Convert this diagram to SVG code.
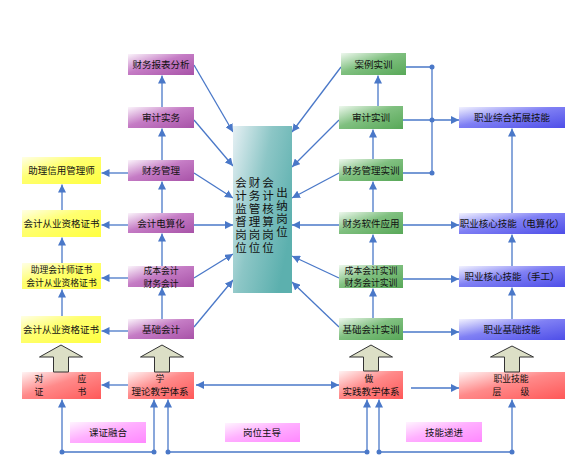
<svg xmlns="http://www.w3.org/2000/svg" width="585" height="460" viewBox="0 0 585 460">
<defs>
<linearGradient id="gP" x1="0" y1="0" x2="1" y2="1"><stop offset="0" stop-color="#fbf4fb"/><stop offset="0.45" stop-color="#c57cc5"/><stop offset="1" stop-color="#a853a8"/></linearGradient>
<linearGradient id="gY" x1="0" y1="0" x2="1" y2="1"><stop offset="0" stop-color="#ffffe6"/><stop offset="0.4" stop-color="#ffff70"/><stop offset="1" stop-color="#ffff40"/></linearGradient>
<linearGradient id="gG" x1="0" y1="0" x2="1" y2="1"><stop offset="0" stop-color="#eef8ee"/><stop offset="0.45" stop-color="#80c080"/><stop offset="1" stop-color="#58a858"/></linearGradient>
<linearGradient id="gB" x1="0" y1="0" x2="1" y2="1"><stop offset="0" stop-color="#f2f2ff"/><stop offset="0.45" stop-color="#8080f4"/><stop offset="1" stop-color="#4e4ee8"/></linearGradient>
<linearGradient id="gR" x1="0" y1="0" x2="1" y2="1"><stop offset="0" stop-color="#fff4f4"/><stop offset="0.45" stop-color="#ff8a8a"/><stop offset="1" stop-color="#ff5858"/></linearGradient>
<linearGradient id="gK" x1="0" y1="0" x2="1" y2="1"><stop offset="0" stop-color="#fff4ff"/><stop offset="0.45" stop-color="#ffb0ff"/><stop offset="1" stop-color="#ff88ff"/></linearGradient>
<linearGradient id="gT" x1="0" y1="0" x2="1" y2="0.6"><stop offset="0" stop-color="#e6f0f4"/><stop offset="0.5" stop-color="#8cc6c6"/><stop offset="1" stop-color="#5cb0ae"/></linearGradient>
<marker id="ah" viewBox="0 0 10 10" refX="10" refY="5" markerWidth="8" markerHeight="8" markerUnits="userSpaceOnUse" orient="auto-start-reverse"><path d="M0,0 L10,5 L0,10 z" fill="#4a78c8"/></marker>
</defs>
<style>
.t{font-family:"Noto Sans CJK SC","Noto Sans",sans-serif;font-size:9.5px;fill:#111;text-anchor:middle}
.t2{font-family:"Noto Sans CJK SC","Noto Sans",sans-serif;font-size:8.8px;fill:#111;text-anchor:middle}
.c{font-family:"Noto Sans CJK SC","Noto Sans",sans-serif;font-size:11.5px;fill:#111;writing-mode:vertical-rl;text-orientation:upright;letter-spacing:1.5px}
.l{fill:none;stroke:#4a78c8;stroke-width:1.3}
.a{marker-end:url(#ah)}
.d{marker-start:url(#ah);marker-end:url(#ah)}
.dot{fill:#4a78c8}
.ba{fill:#dcdfc6;stroke:#333;stroke-width:1}
</style>
<rect width="585" height="460" fill="#fff"/>
<g id="connectors">
<path class="l a" d="M62,316 V289.5"/>
<path class="l a" d="M62,263 V237.5"/>
<path class="l a" d="M62,210 V184.5"/>
<path class="l a" d="M128,173 H101.5"/>
<path class="l a" d="M128,225 H101.5"/>
<path class="l a" d="M128,278 H101.5"/>
<path class="l a" d="M128,331 H101.5"/>
<path class="l a" d="M162,319 V287.5"/>
<path class="l a" d="M162,266 V233.5"/>
<path class="l a" d="M162,213 V181.5"/>
<path class="l a" d="M162,160 V128.5"/>
<path class="l a" d="M162,107 V75.5"/>
<path class="l a" d="M194,65 L233,132"/>
<path class="l a" d="M194,120 L233,166"/>
<path class="l a" d="M194,173 L233,198"/>
<path class="l a" d="M194,225 H233"/>
<path class="l a" d="M194,278 L233,254"/>
<path class="l a" d="M194,327 L233,280"/>
<path class="l a" d="M341,67 L292,132"/>
<path class="l a" d="M339,120 L292,167"/>
<path class="l a" d="M339,173 L292,198"/>
<path class="l a" d="M339,225 H292"/>
<path class="l a" d="M339,278 L292,256"/>
<path class="l a" d="M339,327 L292,282"/>
<path class="l a" d="M373,318 V288.5"/>
<path class="l a" d="M373,265 V234.5"/>
<path class="l a" d="M373,212 V181.5"/>
<path class="l a" d="M373,159 V129.5"/>
<path class="l a" d="M378,106 V75.5"/>
<path class="l" d="M406,67 H432 M403,173 H432 M432,67 V173"/>
<path class="l a" d="M403,120 H459"/>
<circle class="dot" cx="432" cy="67" r="2.5"/>
<circle class="dot" cx="432" cy="120" r="2.5"/>
<circle class="dot" cx="432" cy="173" r="2.5"/>
<path class="l a" d="M403,225 H459"/>
<path class="l a" d="M403,279 H459"/>
<path class="l a" d="M403,332 H459"/>
<path class="l a" d="M512,319 V287.5"/>
<path class="l a" d="M512,266 V234.5"/>
<path class="l a" d="M512,213 V128.5"/>
<path class="l a" d="M128,385 H101.5"/>
<path class="l d" d="M196,385 H339"/>
<path class="l a" d="M411,388 H459"/>
<path class="l a" d="M62,452 V399.5"/>
<path class="l a" d="M154,452 V399.5"/>
<path class="l a" d="M168,452 V399.5"/>
<path class="l a" d="M367,452 V399.5"/>
<path class="l a" d="M379,452 V399.5"/>
<path class="l a" d="M512,452 V399.5"/>
<path class="l" d="M62,452 H154 M168,452 H367 M379,452 H512"/>
<circle class="dot" cx="62" cy="452" r="2.5"/>
<circle class="dot" cx="154" cy="452" r="2.5"/>
<circle class="dot" cx="168" cy="452" r="2.5"/>
<circle class="dot" cx="367" cy="452" r="2.5"/>
<circle class="dot" cx="379" cy="452" r="2.5"/>
<circle class="dot" cx="512" cy="452" r="2.5"/>
</g>
<g id="y1"><rect x="22" y="157" width="79" height="27" fill="url(#gY)"/><text class="t" x="61.5" y="174">助理信用管理师</text></g>
<g id="y2"><rect x="22" y="210" width="79" height="27" fill="url(#gY)"/><text class="t" x="61.5" y="227">会计从业资格证书</text></g>
<g id="y3"><rect x="22" y="263" width="79" height="26" fill="url(#gY)"/><text class="t2" x="61.5" y="273">助理会计师证书</text><text class="t2" x="61.5" y="285.8">会计从业资格证书</text></g>
<g id="y4"><rect x="21" y="316" width="80" height="27" fill="url(#gY)"/><text class="t" x="61" y="333">会计从业资格证书</text></g>
<g id="p1"><rect x="128" y="54" width="66" height="21" fill="url(#gP)"/><text class="t" x="161" y="68">财务报表分析</text></g>
<g id="p2"><rect x="128" y="107" width="66" height="21" fill="url(#gP)"/><text class="t" x="161" y="121">审计实务</text></g>
<g id="p3"><rect x="128" y="160" width="66" height="21" fill="url(#gP)"/><text class="t" x="161" y="174">财务管理</text></g>
<g id="p4"><rect x="128" y="213" width="66" height="20" fill="url(#gP)"/><text class="t" x="161" y="226.5">会计电算化</text></g>
<g id="p5"><rect x="128" y="266" width="66" height="21" fill="url(#gP)"/><text class="t2" x="161" y="274">成本会计</text><text class="t2" x="161" y="286.8">财务会计</text></g>
<g id="p6"><rect x="128" y="319" width="66" height="20" fill="url(#gP)"/><text class="t" x="161" y="332.5">基础会计</text></g>
<g id="center"><rect x="233" y="126" width="59" height="167" fill="url(#gT)"/>
<text class="c" x="241" y="176.5">会计监督岗位</text>
<text class="c" x="254.5" y="176.5">财务管理岗位</text>
<text class="c" x="268" y="176.5">会计核算岗位</text>
<text class="c" x="282" y="186.5">出纳岗位</text>
</g>
<g id="g1"><rect x="341" y="53" width="65" height="22" fill="url(#gG)"/><text class="t" x="373.5" y="67.5">案例实训</text></g>
<g id="g2"><rect x="339" y="106" width="64" height="23" fill="url(#gG)"/><text class="t" x="371" y="121">审计实训</text></g>
<g id="g3"><rect x="339" y="159" width="64" height="22" fill="url(#gG)"/><text class="t" x="371" y="173.5">财务管理实训</text></g>
<g id="g4"><rect x="339" y="212" width="64" height="22" fill="url(#gG)"/><text class="t" x="371" y="226.5">财务软件应用</text></g>
<g id="g5"><rect x="339" y="265" width="64" height="23" fill="url(#gG)"/><text class="t2" x="371" y="273.5">成本会计实训</text><text class="t2" x="371" y="286.3">财务会计实训</text></g>
<g id="g6"><rect x="339" y="318" width="64" height="22" fill="url(#gG)"/><text class="t" x="371" y="332.5">基础会计实训</text></g>
<g id="b1"><rect x="459" y="107" width="106" height="21" fill="url(#gB)"/><text class="t" x="512" y="121">职业综合拓展技能</text></g>
<g id="b2"><rect x="459" y="213" width="106" height="21" fill="url(#gB)"/><text class="t" x="512" y="227">职业核心技能（电算化）</text></g>
<g id="b3"><rect x="459" y="266" width="106" height="21" fill="url(#gB)"/><text class="t" x="512" y="280">职业核心技能（手工）</text></g>
<g id="b4"><rect x="459" y="319" width="106" height="21" fill="url(#gB)"/><text class="t" x="512" y="333">职业基础技能</text></g>
<g id="r1"><rect x="22" y="372" width="79" height="27" fill="url(#gR)"/><text class="t2" x="39" y="382">对</text><text class="t2" x="82" y="382">应</text><text class="t2" x="39" y="394.8">证</text><text class="t2" x="82" y="394.8">书</text></g>
<g id="r2"><rect x="128" y="372" width="66" height="27" fill="url(#gR)"/><text class="t2" x="160" y="382">学</text><text class="t" x="160" y="395">理论教学体系</text></g>
<g id="r3"><rect x="339" y="371" width="64" height="28" fill="url(#gR)"/><text class="t2" x="369" y="382">做</text><text class="t" x="371" y="395">实践教学体系</text></g>
<g id="r4"><rect x="459" y="372" width="106" height="27" fill="url(#gR)"/><text class="t2" x="511" y="382">职业技能</text><text class="t2" x="497" y="394.8">层</text><text class="t2" x="525" y="394.8">级</text></g>
<g id="up1"><polygon class="ba" points="61,345 82.5,357 68.5,357 68.5,372 53.5,372 53.5,357 39.5,357"/></g>
<g id="up2"><polygon class="ba" points="162,345 183.5,357 169.5,357 169.5,372 154.5,372 154.5,357 140.5,357"/></g>
<g id="up3"><polygon class="ba" points="371,345 392.5,357 378.5,357 378.5,371 363.5,371 363.5,357 349.5,357"/></g>
<g id="up4"><polygon class="ba" points="512,346 533.5,357 519.5,357 519.5,372 504.5,372 504.5,357 490.5,357"/></g>
<g id="k1"><rect x="70" y="422" width="76" height="21" fill="url(#gK)"/><text class="t" x="108" y="436">课证融合</text></g>
<g id="k2"><rect x="225" y="423" width="75" height="19" fill="url(#gK)"/><text class="t" x="262" y="436">岗位主导</text></g>
<g id="k3"><rect x="406" y="422" width="76" height="20" fill="url(#gK)"/><text class="t" x="444" y="436">技能递进</text></g>
</svg>
